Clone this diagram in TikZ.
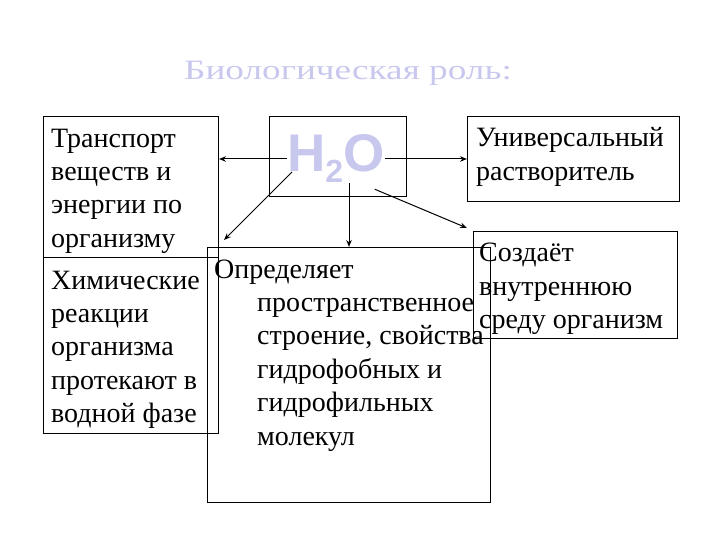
\documentclass[tikz,border=0pt]{standalone}
\usepackage{fontspec}
\setmainfont{Liberation Serif}
\newfontfamily\tnr{Liberation Serif}
\newfontfamily\hsans{Liberation Sans}
\usetikzlibrary{arrows.meta}
\definecolor{lav}{RGB}{200,200,238}
\begin{document}
\begin{tikzpicture}[x=1pt,y=-1pt,
  box/.style={draw=black,line width=1pt,anchor=north west,inner sep=0,minimum width=#1},
  txt/.style={anchor=base west,inner sep=0,align=left,font=\tnr\fontsize{28}{33.4}\selectfont},
  arr/.style={draw=black,line width=1pt,-{Stealth[length=7pt,width=5.5pt]}}]
\useasboundingbox (0,0) rectangle (720,540);
% title
\node[anchor=base,inner sep=0,text=lav,font=\tnr\fontsize{28}{33}\selectfont] (title) at (348,80) {\scalebox{1.33}[1]{Биологическая роль:}};
% boxes
\node[box=175pt,minimum height=141pt] (b1) at (43,116) {};
\node[box=175pt,minimum height=176pt] (b2) at (43,257) {};
\node[box=137pt,minimum height=80pt] (hbox) at (269,116) {};
\node[box=212pt,minimum height=85pt] (univ) at (467,116) {};
\node[box=204pt,minimum height=107pt] (sozd) at (473,231) {};
\node[box=283pt,minimum height=255pt] (opr) at (207,247) {};
% texts (anchor = baseline of last line)
\node[txt] (t1) at (51,247.2) {Транспорт\\веществ и\\энергии по\\организму};
\node[txt] (t2) at (51,422.6) {Химические\\реакции\\организма\\протекают в\\водной фазе};
\node[txt] (t3) at (214,445) {Определяет\\\hspace*{43pt}пространственное\\\hspace*{43pt}строение, свойства\\\hspace*{43pt}гидрофобных и\\\hspace*{43pt}гидрофильных\\\hspace*{43pt}молекул};
\node[txt] (t4) at (476,180.4) {Универсальный\\растворитель};
\node[txt] (t5) at (479,328.5) {Создаёт\\внутреннюю\\среду организм};
% H2O
\node[anchor=base west,inner sep=0,text=lav,font=\hsans\bfseries\fontsize{53}{60}\selectfont] (h2o) at (287,172) {H\raisebox{-11pt}{\fontsize{32}{36}\selectfont 2}O};
% arrows
\coordinate (freeend) at (224,240);
\draw[arr] (h2o.west) -- (h2o.west -| b1.east);
\draw[arr] (h2o.east) -- (h2o.east -| univ.west);
\draw[arr] ([xshift=5pt]h2o.base west) -- (freeend);
\draw[arr] (opr.north |- h2o.south) -- (opr.north);
\draw[arr] ([xshift=-10pt,yshift=-6pt]h2o.south east) -- ([shift={(-6pt,3pt)}]sozd.north west);
\end{tikzpicture}
\end{document}
